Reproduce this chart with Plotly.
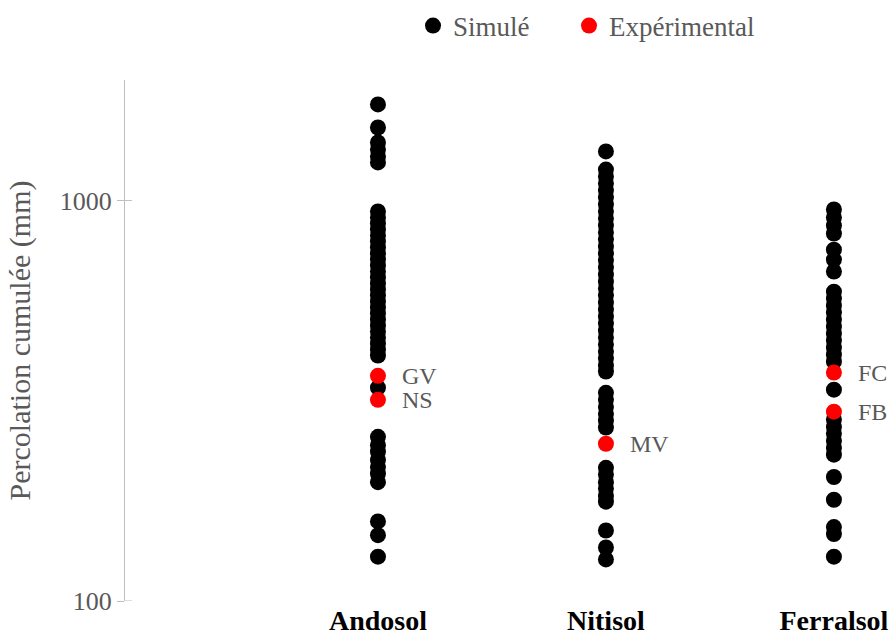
import math
import plotly.graph_objects as go

categories = ["Andosol", "Nitisol", "Ferralsol"]

sim_andosol = [1738, 1522, 1396, 1341, 1288, 1245, 939, 907, 876, 846, 818, 790, 763, 737,
               712, 688, 665, 642, 620, 599, 579, 559, 540, 522, 504, 487, 471, 455, 439,
               424, 410, 341, 257, 245, 236, 225, 216, 208, 198, 158, 146, 129]
sim_nitisol = [1326, 1195, 1148, 1103, 1059, 1017, 977, 939, 902, 866, 832, 799, 767, 737,
               708, 680, 653, 627, 603, 579, 556, 534, 513, 493, 473, 455, 437, 419, 403,
               387, 374, 331, 318, 305, 293, 282, 271, 215, 207, 198, 191, 183, 177, 150,
               136, 127]
sim_ferralsol = [950, 907, 866, 827, 754, 712, 665, 592, 569, 546, 525, 504, 484, 465, 447,
                 429, 412, 396, 337, 284, 272, 262, 251, 241, 232, 204, 179, 153, 147, 129]

exp_labels = ["GV", "NS", "MV", "FC", "FB"]
exp_soils = ["Andosol", "Andosol", "Nitisol", "Ferralsol", "Ferralsol"]
exp_values = [365, 318, 247, 372, 297]

y_ticks = [100, 1000]

FONT = "Liberation Serif"
GRAY = "#595959"

sim_x, sim_y = [], []
for name, vals in zip(categories, [sim_andosol, sim_nitisol, sim_ferralsol]):
    sim_x += [name] * len(vals)
    sim_y += vals

fig = go.Figure()
fig.add_trace(go.Scatter(x=sim_x, y=sim_y, mode="markers", name="Simulé",
                         marker=dict(color="black", size=16), legend="legend"))
fig.add_trace(go.Scatter(x=exp_soils, y=exp_values, mode="markers", name="Expérimental",
                         marker=dict(color="#ff0000", size=16), legend="legend2"))

for lab, s, v in zip(exp_labels, exp_soils, exp_values):
    fig.add_annotation(x=s, y=math.log10(v), yref="y", xref="x", text=lab, showarrow=False,
                       xanchor="left", xshift=22, font=dict(family=FONT, size=24, color=GRAY))

# right half of crossing tick marks
for t in y_ticks:
    fig.add_shape(type="line", xref="paper", yref="y", x0=0, x1=7 / 765, y0=t, y1=t,
                  line=dict(color="#bfbfbf", width=1))

leg_common = dict(orientation="h", xref="container", yref="container",
                  xanchor="left", yanchor="middle", bgcolor="rgba(0,0,0,0)",
                  font=dict(family=FONT, size=27, color=GRAY), itemsizing="trace")

fig.update_layout(
    width=895, height=638,
    margin=dict(l=125, r=5, t=80, b=37),
    paper_bgcolor="white", plot_bgcolor="white",
    font=dict(family=FONT, color=GRAY),
    showlegend=True,
    legend=dict(x=413 / 895, y=1 - 26 / 638, **leg_common),
    legend2=dict(x=569 / 895, y=1 - 26 / 638, **leg_common),
    xaxis=dict(type="category", categoryorder="array", categoryarray=categories,
               range=[-1.1096, 2.246], showline=False, showgrid=False, zeroline=False,
               ticks="", ticklabelstandoff=0, automargin=False,
               tickfont=dict(family=FONT, size=28, color="black", weight="bold")),
    yaxis=dict(type="log", range=[2, 3.301], tickvals=y_ticks, ticktext=["100", "1000"],
               showline=True, linecolor="#bfbfbf", linewidth=1, showgrid=False,
               zeroline=False, ticks="outside", ticklen=7, tickcolor="#bfbfbf",
               automargin=False,
               tickfont=dict(family=FONT, size=26, color=GRAY),
               title=dict(text="Percolation cumulée (mm)", standoff=20,
                          font=dict(family=FONT, size=30, color=GRAY))),
)

fig.write_html("out.html", config={"displayModeBar": False},
               post_script="document.body.style.margin='0px';")
